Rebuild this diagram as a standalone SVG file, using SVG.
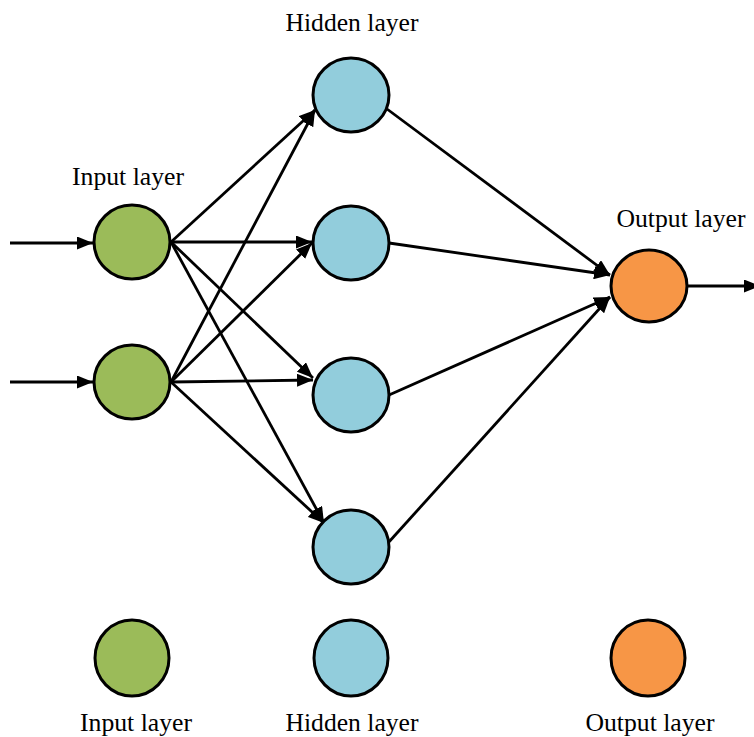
<svg xmlns="http://www.w3.org/2000/svg" width="754" height="737" viewBox="0 0 754 737">
<style>
.in{fill:#9bbb59;stroke:#000;stroke-width:3}
.hid{fill:#92cddc;stroke:#000;stroke-width:3}
.out{fill:#f79646;stroke:#000;stroke-width:3}
.lbl{font-family:"Liberation Serif","Times New Roman",serif;font-size:25px;fill:#000;text-anchor:middle}
.edge{stroke:#000;stroke-width:2.8;fill:none;marker-end:url(#ah)}
</style>
<defs>
<marker id="ah" markerUnits="userSpaceOnUse" markerWidth="17" markerHeight="13" refX="16" refY="6.5" orient="auto">
<path d="M0,0 L16,6.5 L0,13 z" fill="#000"/>
</marker>
</defs>
<rect width="754" height="737" fill="#fff"/>
<g id="connectors">
<line class="edge" x1="10" y1="243" x2="93" y2="243"/>
<line class="edge" x1="10" y1="382" x2="93" y2="382"/>
<line class="edge" x1="171" y1="242" x2="315" y2="110"/>
<line class="edge" x1="171" y1="242" x2="312" y2="242"/>
<line class="edge" x1="171" y1="242" x2="313" y2="378"/>
<line class="edge" x1="171" y1="242" x2="324" y2="523"/>
<line class="edge" x1="171" y1="382" x2="315" y2="110"/>
<line class="edge" x1="171" y1="382" x2="312" y2="243"/>
<line class="edge" x1="171" y1="382" x2="313" y2="380"/>
<line class="edge" x1="171" y1="382" x2="324" y2="523"/>
<line class="edge" x1="387" y1="109" x2="610" y2="275"/>
<line class="edge" x1="389" y1="243" x2="610" y2="275"/>
<line class="edge" x1="389" y1="395" x2="610" y2="297"/>
<line class="edge" x1="388" y1="543" x2="610" y2="297"/>
<line class="edge" x1="687" y1="286" x2="760" y2="286"/>
</g>
<g id="input1"><ellipse class="in" cx="132" cy="242" rx="38" ry="37"/></g>
<g id="input2"><ellipse class="in" cx="132" cy="382" rx="38" ry="37"/></g>
<g id="hidden1"><ellipse class="hid" cx="351" cy="95" rx="38" ry="37"/></g>
<g id="hidden2"><ellipse class="hid" cx="351" cy="243" rx="38" ry="37"/></g>
<g id="hidden3"><ellipse class="hid" cx="351" cy="395" rx="38" ry="37"/></g>
<g id="hidden4"><ellipse class="hid" cx="351" cy="547" rx="38" ry="37"/></g>
<g id="output"><ellipse class="out" cx="649" cy="286" rx="38" ry="36"/></g>
<g id="labels">
<text class="lbl" x="352" y="31" textLength="133" lengthAdjust="spacingAndGlyphs">Hidden layer</text>
<text class="lbl" x="128" y="185" textLength="112" lengthAdjust="spacingAndGlyphs">Input layer</text>
<text class="lbl" x="681" y="227" textLength="129" lengthAdjust="spacingAndGlyphs">Output layer</text>
</g>
<g id="legend-input"><ellipse class="in" cx="132" cy="658" rx="37" ry="38"/><text class="lbl" x="136" y="731" textLength="112" lengthAdjust="spacingAndGlyphs">Input layer</text></g>
<g id="legend-hidden"><ellipse class="hid" cx="351" cy="658" rx="37" ry="38"/><text class="lbl" x="352" y="731" textLength="133" lengthAdjust="spacingAndGlyphs">Hidden layer</text></g>
<g id="legend-output"><ellipse class="out" cx="648" cy="658" rx="37" ry="38"/><text class="lbl" x="650" y="731" textLength="129" lengthAdjust="spacingAndGlyphs">Output layer</text></g>
</svg>
